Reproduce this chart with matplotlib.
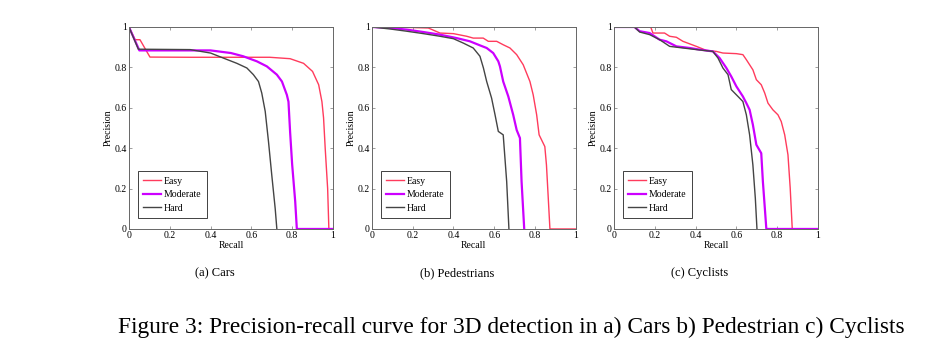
import numpy as np
import matplotlib.pyplot as plt

plt.rcParams['font.family'] = ['Liberation Serif', 'DejaVu Serif']

# ---- data (recall, precision) ----
cars_easy_r = [0, 0.03, 0.054, 0.103, 0.3, 0.55, 0.69, 0.79, 0.856, 0.9, 0.93, 0.946, 0.954, 0.962, 0.974, 0.98, 1.0]
cars_easy_p = [1, 0.937, 0.937, 0.851, 0.85, 0.85, 0.85, 0.843, 0.82, 0.78, 0.714, 0.63, 0.55, 0.40, 0.20, 0, 0]
cars_mod_r = [0, 0.051, 0.2, 0.4, 0.5, 0.56, 0.627, 0.676, 0.725, 0.75, 0.774, 0.782, 0.79, 0.80, 0.815, 0.823, 1.0]
cars_mod_p = [1, 0.884, 0.884, 0.884, 0.871, 0.855, 0.83, 0.805, 0.764, 0.73, 0.664, 0.63, 0.48, 0.32, 0.136, 0, 0]
cars_hard_r = [0, 0.046, 0.3, 0.4, 0.463, 0.529, 0.578, 0.61, 0.635, 0.651, 0.668, 0.684, 0.70, 0.717, 0.725]
cars_hard_p = [1, 0.89, 0.888, 0.871, 0.846, 0.82, 0.797, 0.764, 0.73, 0.673, 0.582, 0.433, 0.268, 0.1, 0]

ped_easy_r = [0, 0.1, 0.277, 0.334, 0.4, 0.465, 0.497, 0.546, 0.571, 0.612, 0.644, 0.677, 0.71, 0.742, 0.775, 0.791, 0.808, 0.82, 0.848, 0.856, 0.864, 0.873, 1.0]
ped_easy_p = [1, 1.0, 0.995, 0.97, 0.967, 0.954, 0.945, 0.945, 0.929, 0.929, 0.912, 0.896, 0.863, 0.813, 0.73, 0.664, 0.565, 0.466, 0.408, 0.317, 0.169, 0, 0]
ped_mod_r = [0, 0.09, 0.171, 0.253, 0.334, 0.416, 0.481, 0.53, 0.563, 0.595, 0.62, 0.628, 0.644, 0.669, 0.693, 0.71, 0.726, 0.734, 0.747]
ped_mod_p = [1, 0.995, 0.987, 0.975, 0.962, 0.945, 0.929, 0.909, 0.896, 0.871, 0.83, 0.805, 0.73, 0.656, 0.565, 0.49, 0.45, 0.235, 0]
ped_hard_r = [0, 0.09, 0.171, 0.253, 0.334, 0.4, 0.449, 0.497, 0.53, 0.547, 0.563, 0.587, 0.604, 0.62, 0.644, 0.661, 0.672]
ped_hard_p = [1, 0.99, 0.979, 0.967, 0.954, 0.942, 0.92, 0.896, 0.855, 0.797, 0.73, 0.648, 0.565, 0.483, 0.466, 0.235, 0]

cyc_easy_r = [0, 0.18, 0.191, 0.248, 0.273, 0.306, 0.338, 0.404, 0.453, 0.502, 0.534, 0.6, 0.632, 0.649, 0.681, 0.698, 0.722, 0.739, 0.755, 0.779, 0.804, 0.82, 0.837, 0.853, 0.864, 0.874, 1.0]
cyc_easy_p = [1, 1.0, 0.97, 0.97, 0.954, 0.949, 0.929, 0.904, 0.884, 0.879, 0.871, 0.868, 0.863, 0.838, 0.788, 0.739, 0.714, 0.673, 0.623, 0.59, 0.565, 0.532, 0.466, 0.367, 0.202, 0, 0]
cyc_mod_r = [0, 0.1, 0.126, 0.175, 0.224, 0.257, 0.306, 0.371, 0.42, 0.485, 0.518, 0.551, 0.575, 0.6, 0.632, 0.649, 0.665, 0.681, 0.698, 0.722, 0.73, 0.747, 1.0]
cyc_mod_p = [1, 1.0, 0.979, 0.97, 0.937, 0.929, 0.904, 0.896, 0.888, 0.879, 0.846, 0.797, 0.755, 0.706, 0.656, 0.623, 0.59, 0.516, 0.417, 0.375, 0.235, 0, 0]
cyc_hard_r = [0, 0.1, 0.126, 0.175, 0.224, 0.273, 0.338, 0.404, 0.485, 0.51, 0.534, 0.559, 0.575, 0.608, 0.632, 0.649, 0.665, 0.681, 0.693, 0.701]
cyc_hard_p = [1, 1.0, 0.975, 0.962, 0.937, 0.904, 0.896, 0.888, 0.879, 0.846, 0.797, 0.764, 0.69, 0.656, 0.631, 0.565, 0.466, 0.317, 0.152, 0]

panels = [
    ('(a) Cars', (cars_easy_r, cars_easy_p), (cars_mod_r, cars_mod_p), (cars_hard_r, cars_hard_p)),
    ('(b) Pedestrians', (ped_easy_r, ped_easy_p), (ped_mod_r, ped_mod_p), (ped_hard_r, ped_hard_p)),
    ('(c) Cyclists', (cyc_easy_r, cyc_easy_p), (cyc_mod_r, cyc_mod_p), (cyc_hard_r, cyc_hard_p)),
]
lefts = [0.1356, 0.391, 0.6456]
ticks = [0, 0.2, 0.4, 0.6, 0.8, 1.0]
tick_labels = ['0', '0.2', '0.4', '0.6', '0.8', '1']

fig = plt.figure(figsize=(9.51, 3.55), dpi=100)
for left, (name, easy, mod, hard) in zip(lefts, panels):
    ax = fig.add_axes([left, 0.355, 0.2145, 0.569])
    ax.plot(easy[0], easy[1], color='#ff3b5c', lw=1.0, label='Easy')
    ax.plot(mod[0], mod[1], color='#cc00ff', lw=1.6, label='Moderate')
    ax.plot(hard[0], hard[1], color='#444444', lw=1.0, label='Hard')
    ax.set_xlim(0, 1)
    ax.set_ylim(0, 1)
    ax.set_xticks(ticks)
    ax.set_yticks(ticks)
    ax.set_xticklabels(tick_labels)
    ax.set_yticklabels(tick_labels)
    ax.tick_params(direction='in', top=True, right=True, length=2.5, width=0.5,
                   color='#777777', labelsize=7, pad=1.5)
    for s in ax.spines.values():
        s.set_color('#666666')
        s.set_linewidth(0.7)
    ax.set_xlabel('Recall', fontsize=7, labelpad=1)
    ax.set_ylabel('Precision', fontsize=7, labelpad=1)
    leg = ax.legend(loc='lower left', bbox_to_anchor=(0.045, 0.055), fontsize=7,
                    fancybox=False, edgecolor='#222222', framealpha=1,
                    handlelength=1.8, handletextpad=0.3, borderpad=0.55,
                    labelspacing=0.45, borderaxespad=0)
    leg.get_frame().set_linewidth(0.6)
    fig.text(left + 0.09, 0.23, name, ha='center', va='center', fontsize=9)

fig.text(0.538, 0.078, 'Figure 3: Precision-recall curve for 3D detection in a) Cars b) Pedestrian c) Cyclists',
         ha='center', va='center', fontsize=16.8)

fig.savefig('out.png', dpi=100)
